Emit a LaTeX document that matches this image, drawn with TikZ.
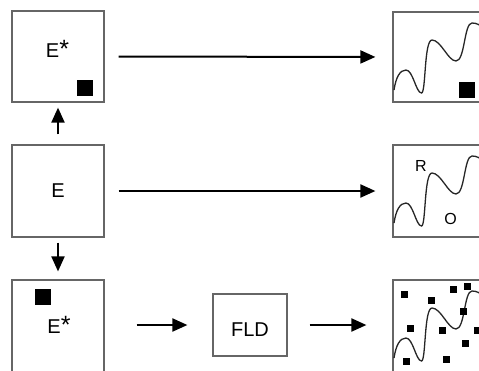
\documentclass[tikz,border=0pt]{standalone}
\usepackage{fontspec}
\setmainfont{Liberation Sans}
\usetikzlibrary{arrows.meta}

\tikzset{
  panel/.style={draw=black!60, line width=1.2pt, inner sep=0pt, fill=white,
    font=\fontsize{20}{20}\selectfont},
  lbl/.style={inner sep=0pt, anchor=base, font=\fontsize{20}{20}\selectfont},
  small/.style={inner sep=0pt, anchor=base, font=\fontsize{16}{16}\selectfont},
  blk/.style={fill=black, inner sep=0pt, minimum size=16pt},
  dot/.style={fill=black, inner sep=0pt, minimum size=7pt},
  arr/.style={line width=2pt, -{Triangle[length=15pt,width=13pt]}},
  wave/.style={line width=1.3pt, black!85}
}

% one wavy chain; #1 = left edge, #2 = top edge of its panel
\newcommand{\chainwave}[2]{%
  \begin{scope}[shift={(#1,#2)}]
    \draw[wave] (1,77) .. controls (3,64) and (7,57) .. (13,57)
      .. controls (20,57) and (23,80) .. (28.5,80)
      .. controls (33,80) and (31,27) .. (39,27)
      .. controls (48,27) and (55,48) .. (63,48)
      .. controls (72,48) and (71,10) .. (79,10)
      .. controls (84,10) and (87,12) .. (92,16);
  \end{scope}}

\newcommand{\starmark}{{\fontsize{25}{25}\selectfont *}}

\begin{document}
\begin{tikzpicture}[x=1pt, y=-1pt]
  \useasboundingbox (0,0) rectangle (479,370);
  \clip (0,0) rectangle (479,370);

  % left column
  \node[panel, minimum width=92pt, minimum height=91pt] (estarA) at (58,56.5) {};
  \node[panel, minimum width=92pt, minimum height=92pt] (ebox) at (58,191) {E};
  \node[panel, minimum width=92pt, minimum height=100pt] (estarB) at (58,330) {};

  \node[lbl] (estarAtxt) at (57.5,57) {E\starmark};
  \node[blk] (sqA) at (85,88) {};
  \node[lbl] (estarBtxt) at (59,333) {E\starmark};
  \node[blk] (sqB) at (43,296.5) {};

  % middle step
  \node[panel, minimum width=74pt, minimum height=62pt, text height=22pt, text depth=0pt] (fld) at (250,325) {FLD};

  % right column
  \node[panel, minimum width=100pt, minimum height=90pt] (chainA) at (443,57) {};
  \node[panel, minimum width=100pt, minimum height=92pt] (chainB) at (443,191) {};
  \node[panel, minimum width=100pt, minimum height=100pt] (chainC) at (443,330) {};

  \chainwave{393}{13}
  \chainwave{393}{146}
  \chainwave{393}{281}

  \node[blk] (sqC) at (466.5,89.5) {};
  \node[small] (rlbl) at (421,171) {R};
  \node[small] (olbl) at (450.5,224) {O};

  \foreach \px/\py [count=\i] in {404/294, 431/300, 453/289, 467/286.5, 463/311,
      410.5/328, 442/330, 477/330, 465/343, 406.5/361.5, 446.5/359.5}
    \node[dot] (d\i) at (\px,\py) {};

  % connectors
  \draw[arr, shorten <=14pt, shorten >=17pt] (estarA.east) -- (chainA.west);
  \draw[arr, shorten <=14pt, shorten >=17pt] (ebox.east) -- (chainB.west);
  \draw[arr, shorten <=10pt, shorten >=5pt] (ebox.north) -- (estarA.south);
  \draw[arr, shorten <=5pt, shorten >=8pt] (ebox.south) -- (estarB.north);
  \draw[arr, shorten <=32pt, shorten >=25pt] (estarB.east |- fld.west) -- (fld.west);
  \draw[arr, shorten <=22pt, shorten >=26pt] (fld.east) -- (fld.east -| chainC.west);
\end{tikzpicture}
\end{document}
